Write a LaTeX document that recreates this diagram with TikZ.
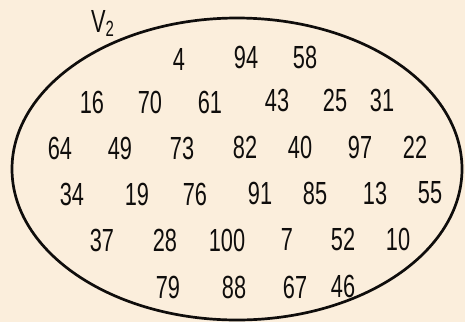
\documentclass[tikz,border=0pt]{standalone}
\usepackage{fontspec}
\setmainfont{Liberation Sans}[FakeStretch=0.68]
\usepackage{tikz}
\usetikzlibrary{positioning}
\definecolor{paper}{RGB}{251,238,220}
\definecolor{ink}{RGB}{15,13,12}

\begin{document}
\begin{tikzpicture}[x=1pt, y=-1pt,
    elem/.style={text=ink, font=\fontsize{32}{32}\selectfont, inner sep=0pt}]
    % Background sheet
    \fill[paper] (0,0) rectangle (465,322);
    \useasboundingbox (0,0) rectangle (465,322);

    % The set as an ellipse
    \draw[ink, line width=2.7pt] (237,169) ellipse [x radius=225pt, y radius=151pt];
    \node[elem, anchor=base west] (setname) at (91,32)
        {V\raisebox{-4pt}{\fontsize{22}{22}\selectfont 2}};

    % Elements, row by row
    \foreach \num/\px/\py in {4/179/59, 94/246/57, 58/305/57,
        16/92/102, 70/150/102, 61/210/102, 43/277/100, 25/335/100, 31/382/100,
        64/60/148, 49/120/148, 73/182/148, 82/245/147, 40/300/147, 97/360/147, 22/415/147,
        34/72/194, 19/137/194, 76/195/194, 91/260/193, 85/315/193, 13/375/193, 55/430/193,
        37/102/240, 28/165/240, 100/227/240, 7/287/239, 52/343/239, 10/398/239,
        79/168/287, 88/234/287, 67/295/287, 46/343/286}
        \node[elem] (n\num) at (\px,\py) {\num};
\end{tikzpicture}
\end{document}
